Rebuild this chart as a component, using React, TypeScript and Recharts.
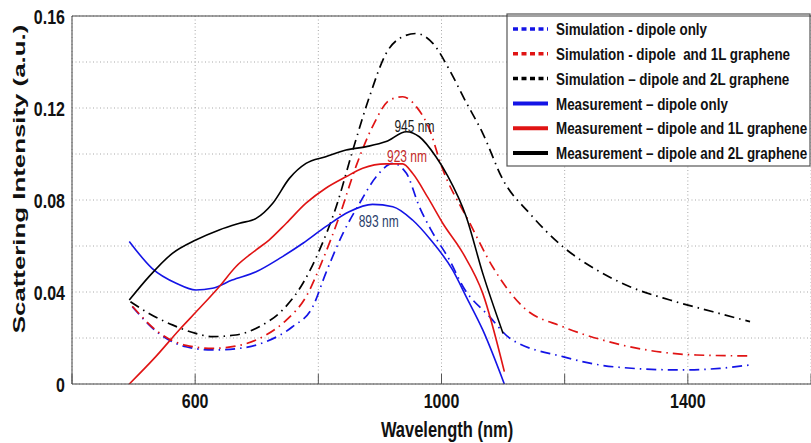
import React from "react";
import {
  LineChart, Line, XAxis, YAxis, CartesianGrid,
  ReferenceLine, ReferenceDot, Customized
} from "recharts";

// wavelength (nm), scattering intensity (a.u.)
const simDipole = [
  [498, 0.0336], [541, 0.022], [585, 0.0162], [628, 0.0148], [672, 0.0155], [715, 0.0184],
  [758, 0.0249], [791, 0.0336], [812, 0.0481], [840, 0.0655], [867, 0.0786], [894, 0.0901],
  [921, 0.0959], [943, 0.0916], [964, 0.0771], [983, 0.067], [1013, 0.0539], [1035, 0.0423],
  [1078, 0.0293], [1111, 0.0199], [1197, 0.0119], [1279, 0.0075], [1387, 0.0061],
  [1452, 0.0068], [1501, 0.0083]
];
const sim1L = [
  [498, 0.0338], [541, 0.0224], [585, 0.0168], [628, 0.0155], [672, 0.0168], [715, 0.0213],
  [748, 0.0278], [780, 0.0379], [807, 0.0539], [834, 0.0728], [861, 0.0945], [888, 0.1119],
  [916, 0.1235], [937, 0.1249], [959, 0.1206], [981, 0.1104], [999, 0.0955], [1046, 0.0699],
  [1083, 0.051], [1132, 0.0336], [1197, 0.0249], [1262, 0.0191], [1333, 0.0148],
  [1414, 0.0126], [1501, 0.0122]
];
const sim2L = [
  [495, 0.0358], [525, 0.0307], [563, 0.0257], [601, 0.022], [628, 0.0206], [666, 0.0213],
  [704, 0.0249], [742, 0.0322], [775, 0.0438], [802, 0.0583], [829, 0.0771], [856, 0.1017],
  [883, 0.1249], [910, 0.1437], [937, 0.151], [959, 0.1524], [986, 0.1481], [1013, 0.1365],
  [1037, 0.124], [1067, 0.109], [1100, 0.0887], [1143, 0.0742], [1197, 0.0597],
  [1252, 0.0496], [1306, 0.0423], [1371, 0.0365], [1441, 0.0314], [1501, 0.0271]
];
const measDipole = [
  [493, 0.062], [530, 0.0503], [570, 0.0437], [601, 0.0409], [628, 0.0416], [660, 0.0452],
  [699, 0.0488], [737, 0.0546], [775, 0.0612], [812, 0.0684], [850, 0.0749], [888, 0.0781],
  [921, 0.0771], [953, 0.0713], [983, 0.0625], [1018, 0.0496], [1040, 0.038], [1067, 0.0235],
  [1102, 0]
];
const meas1L = [
  [493, 0], [536, 0.0119], [574, 0.0235], [607, 0.0329], [639, 0.0423], [666, 0.051],
  [699, 0.0583], [720, 0.0626], [748, 0.0699], [780, 0.0786], [812, 0.0851], [845, 0.0901],
  [872, 0.0938], [910, 0.0957], [937, 0.0957], [953, 0.0916], [978, 0.081], [1002, 0.0699],
  [1035, 0.0568], [1067, 0.0394], [1102, 0.0054]
];
const meas2L = [
  [493, 0.0365], [525, 0.0467], [563, 0.0568], [601, 0.0626], [639, 0.067], [672, 0.0699],
  [699, 0.072], [726, 0.0786], [753, 0.0894], [780, 0.0959], [812, 0.0988], [845, 0.1017],
  [878, 0.1032], [910, 0.1054], [943, 0.1097], [964, 0.1075], [991, 0.0988], [1010, 0.0905],
  [1040, 0.0728], [1067, 0.0481], [1100, 0.022]
];

const X_TICKS = [400, 600, 800, 1000, 1200, 1400, 1600];
const X_LABELS = [600, 1000, 1400];
const Y_TICKS = [0, 0.02, 0.04, 0.06, 0.08, 0.1, 0.12, 0.14, 0.16];
const Y_LABELS = [0, 0.04, 0.08, 0.12, 0.16];

const PEAKS = [
  { x: 956, y: 0.1122, text: "945 nm", color: "#1a1a1a" },
  { x: 944, y: 0.0991, text: "923 nm", color: "#c42a2a" },
  { x: 898, y: 0.0709, text: "893 nm", color: "#2b3e6c" },
];

const BLUE = "#1414e6";
const RED = "#e01414";
const BLACK = "#000000";

const SERIES = [
  { key: "sd", name: "Simulation - dipole only", color: BLUE, sim: true, data: simDipole },
  { key: "s1", name: "Simulation - dipole  and 1L graphene", color: RED, sim: true, data: sim1L },
  { key: "s2", name: "Simulation \u2013 dipole and 2L graphene", color: BLACK, sim: true, data: sim2L },
  { key: "md", name: "Measurement \u2013 dipole only", color: BLUE, sim: false, data: measDipole },
  { key: "m1", name: "Measurement \u2013 dipole and 1L graphene", color: RED, sim: false, data: meas1L },
  { key: "m2", name: "Measurement \u2013 dipole and 2L graphene", color: BLACK, sim: false, data: meas2L },
];

const FONT = "'Liberation Sans', Arial, Helvetica, sans-serif";
const SY = 1.3; // the source figure is stretched vertically

const toPts = (arr: number[][]) => arr.map(([x, y]) => ({ x, y }));

const XTick = ({ x, y, payload }: any) => (
  <g>
    <line x1={x} x2={x} y1={y} y2={y - 10} stroke="#555" />
    {X_LABELS.includes(payload.value) && (
      <text transform={`translate(${x},${y + 24}) scale(1,${SY})`} textAnchor="middle"
        fontFamily={FONT} fontWeight="bold" fontSize={16} fill="#111">
        {payload.value}
      </text>
    )}
  </g>
);

const YTick = ({ x, y, payload }: any) =>
  Y_LABELS.some(v => Math.abs(v - payload.value) < 1e-9) ? (
    <text transform={`translate(${x - 7},${y + 7.5}) scale(1,${SY})`} textAnchor="end"
      fontFamily={FONT} fontWeight="bold" fontSize={16} fill="#111">
      {payload.value === 0 ? "0" : payload.value.toFixed(2)}
    </text>
  ) : <g />;

const PeakLabel = (color: string, text: string) => (props: any) => {
  const { x, y } = props.viewBox;
  return (
    <text transform={`translate(${x},${y + 5.8}) scale(1,1.36)`} textAnchor="middle"
      fontFamily={FONT} fontSize={12} fill={color}>
      {text}
    </text>
  );
};

const LegendBox = () => (
  <g>
    <rect x={507} y={14} width={303} height={152} fill="#fff" stroke="#555" strokeWidth={1.2} />
    {SERIES.map((s, i) => {
      const cy = 29 + i * 24.8;
      return (
        <g key={s.key}>
          <line x1={513} x2={548} y1={cy} y2={cy} stroke={s.color}
            strokeWidth={s.sim ? 3.5 : 4} strokeDasharray={s.sim ? "5 3.5" : undefined} />
          <text transform={`translate(556,${cy + 6.1}) scale(1,1.28)`} fontFamily={FONT}
            fontWeight="bold" fontSize={13.4} fill="#111" style={{ whiteSpace: "pre" }}>
            {s.name}
          </text>
        </g>
      );
    })}
  </g>
);

export default function App() {
  return (
    <div>
      <style>{`body{margin:0;background:#fff}`}</style>
      <LineChart width={811} height={443} margin={{ top: 16, right: 0, bottom: 0, left: 0 }}>
        <CartesianGrid stroke="#a8a8a8" strokeDasharray="1 2.5" />
        <XAxis dataKey="x" type="number" domain={[400, 1600]} ticks={X_TICKS}
          allowDataOverflow height={59} stroke="#444" tickLine={false} tickSize={0} tickMargin={0}
          tick={<XTick />} interval={0}
          label={{
            content: () => (
              <text transform={`translate(447,437) scale(1,${SY})`} textAnchor="middle"
                fontFamily={FONT} fontWeight="bold" fontSize={16.5} fill="#111">
                Wavelength (nm)
              </text>
            )
          }} />
        <YAxis type="number" domain={[0, 0.16]} ticks={Y_TICKS} width={72} stroke="#444"
          tickLine={false} tickSize={0} tickMargin={0} tick={<YTick />} interval={0}
          label={{
            content: () => (
              <text transform="translate(25,179) rotate(-90) scale(1.52,1)" textAnchor="middle"
                fontFamily={FONT} fontWeight="bold" fontSize={17} fill="#111">
                Scattering Intensity (a.u.)
              </text>
            )
          }} />
        <YAxis yAxisId="r" orientation="right" type="number" domain={[0, 0.16]} ticks={Y_TICKS}
          width={0} stroke="#444" tickSize={-8} tickFormatter={() => ""} interval={0} />
        <ReferenceLine y={0.16} stroke="#444" />
        {SERIES.map(s => (
          <Line key={s.key} data={toPts(s.data)} dataKey="y" type="monotone" stroke={s.color}
            strokeWidth={s.sim ? 1.7 : 1.6} strokeDasharray={s.sim ? "10 5 1.5 5" : undefined}
            dot={false} activeDot={false} isAnimationActive={false} />
        ))}
        {PEAKS.map(p => (
          <ReferenceDot key={p.text} x={p.x} y={p.y} r={0} fill="none" stroke="none"
            label={{ content: PeakLabel(p.color, p.text) }} />
        ))}
        <Customized component={<LegendBox />} />
      </LineChart>
    </div>
  );
}
